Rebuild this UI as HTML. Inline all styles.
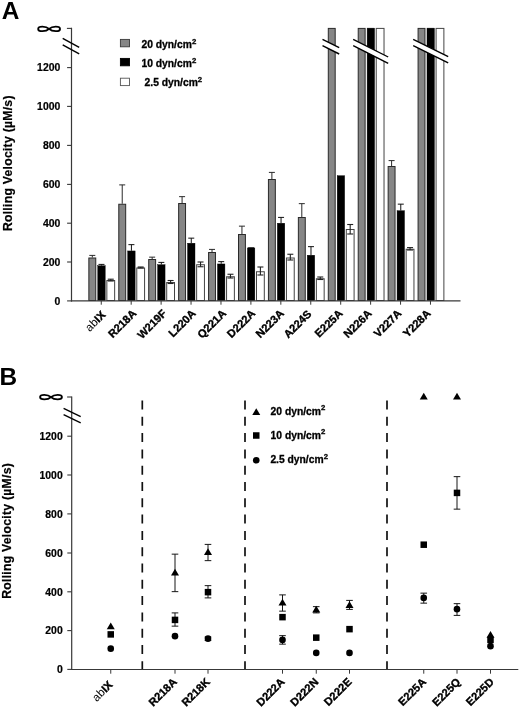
<!DOCTYPE html>
<html><head><meta charset="utf-8"><title>Rolling velocity</title>
<style>html,body{margin:0;padding:0;background:#fff;}svg{display:block;font-family:'Liberation Sans', sans-serif;fill:#000;will-change:transform}</style>
</head><body>
<svg width="520" height="710" viewBox="0 0 520 710">
<rect x="0" y="0" width="520" height="710" fill="#fff"/>
<text x="1.7" y="19.1" font-size="24.4" font-weight="bold" text-anchor="start" >A</text>
<line x1="92.30" y1="255.4" x2="92.30" y2="257.5" stroke="#2a2a2a" stroke-width="1.0" />
<line x1="89.30" y1="255.4" x2="95.30" y2="255.4" stroke="#2a2a2a" stroke-width="1.0" />
<line x1="101.47" y1="264.4" x2="101.47" y2="265.5" stroke="#111" stroke-width="1.0" />
<line x1="98.47" y1="264.4" x2="104.47" y2="264.4" stroke="#111" stroke-width="1.0" />
<rect x="88.85" y="258.00" width="6.90" height="42.50" fill="#868686" stroke="#2a2a2a" stroke-width="1.0"/>
<rect x="97.75" y="265.70" width="7.45" height="34.80" fill="#000" stroke="#000" stroke-width="0.4"/>
<rect x="106.85" y="280.50" width="7.80" height="20.00" fill="#fff" stroke="#444" stroke-width="1.0"/>
<line x1="110.75" y1="279.2" x2="110.75" y2="281.0" stroke="#222" stroke-width="1.1" />
<line x1="107.75" y1="279.2" x2="113.75" y2="279.2" stroke="#222" stroke-width="1.1" />
<line x1="107.75" y1="281.0" x2="113.75" y2="281.0" stroke="#222" stroke-width="1.1" />
<line x1="122.23" y1="184.9" x2="122.23" y2="203.75" stroke="#2a2a2a" stroke-width="1.0" />
<line x1="119.23" y1="184.9" x2="125.23" y2="184.9" stroke="#2a2a2a" stroke-width="1.0" />
<line x1="131.41" y1="244.65" x2="131.41" y2="250.75" stroke="#111" stroke-width="1.0" />
<line x1="128.41" y1="244.65" x2="134.41" y2="244.65" stroke="#111" stroke-width="1.0" />
<rect x="118.78" y="204.25" width="6.90" height="96.25" fill="#868686" stroke="#2a2a2a" stroke-width="1.0"/>
<rect x="127.68" y="250.95" width="7.45" height="49.55" fill="#000" stroke="#000" stroke-width="0.4"/>
<rect x="136.78" y="268.00" width="7.80" height="32.50" fill="#fff" stroke="#444" stroke-width="1.0"/>
<line x1="140.68" y1="267.0" x2="140.68" y2="268.0" stroke="#222" stroke-width="1.1" />
<line x1="137.68" y1="267.0" x2="143.68" y2="267.0" stroke="#222" stroke-width="1.1" />
<line x1="137.68" y1="268.0" x2="143.68" y2="268.0" stroke="#222" stroke-width="1.1" />
<line x1="152.16" y1="257.15" x2="152.16" y2="259.0" stroke="#2a2a2a" stroke-width="1.0" />
<line x1="149.16" y1="257.15" x2="155.16" y2="257.15" stroke="#2a2a2a" stroke-width="1.0" />
<line x1="161.34" y1="262.4" x2="161.34" y2="264.5" stroke="#111" stroke-width="1.0" />
<line x1="158.34" y1="262.4" x2="164.34" y2="262.4" stroke="#111" stroke-width="1.0" />
<rect x="148.71" y="259.50" width="6.90" height="41.00" fill="#868686" stroke="#2a2a2a" stroke-width="1.0"/>
<rect x="157.61" y="264.70" width="7.45" height="35.80" fill="#000" stroke="#000" stroke-width="0.4"/>
<rect x="166.71" y="282.50" width="7.80" height="18.00" fill="#fff" stroke="#444" stroke-width="1.0"/>
<line x1="170.61" y1="280.5" x2="170.61" y2="283.5" stroke="#222" stroke-width="1.1" />
<line x1="167.61" y1="280.5" x2="173.61" y2="280.5" stroke="#222" stroke-width="1.1" />
<line x1="167.61" y1="283.5" x2="173.61" y2="283.5" stroke="#222" stroke-width="1.1" />
<line x1="182.09" y1="196.65" x2="182.09" y2="203.0" stroke="#2a2a2a" stroke-width="1.0" />
<line x1="179.09" y1="196.65" x2="185.09" y2="196.65" stroke="#2a2a2a" stroke-width="1.0" />
<line x1="191.26" y1="238.15" x2="191.26" y2="243.0" stroke="#111" stroke-width="1.0" />
<line x1="188.26" y1="238.15" x2="194.26" y2="238.15" stroke="#111" stroke-width="1.0" />
<rect x="178.64" y="203.50" width="6.90" height="97.00" fill="#868686" stroke="#2a2a2a" stroke-width="1.0"/>
<rect x="187.54" y="243.20" width="7.45" height="57.30" fill="#000" stroke="#000" stroke-width="0.4"/>
<rect x="196.64" y="264.75" width="7.80" height="35.75" fill="#fff" stroke="#444" stroke-width="1.0"/>
<line x1="200.54" y1="262.0" x2="200.54" y2="266.75" stroke="#222" stroke-width="1.1" />
<line x1="197.54" y1="262.0" x2="203.54" y2="262.0" stroke="#222" stroke-width="1.1" />
<line x1="197.54" y1="266.75" x2="203.54" y2="266.75" stroke="#222" stroke-width="1.1" />
<line x1="212.02" y1="249.4" x2="212.02" y2="252.0" stroke="#2a2a2a" stroke-width="1.0" />
<line x1="209.02" y1="249.4" x2="215.02" y2="249.4" stroke="#2a2a2a" stroke-width="1.0" />
<line x1="221.19" y1="261.65" x2="221.19" y2="263.75" stroke="#111" stroke-width="1.0" />
<line x1="218.19" y1="261.65" x2="224.19" y2="261.65" stroke="#111" stroke-width="1.0" />
<rect x="208.57" y="252.50" width="6.90" height="48.00" fill="#868686" stroke="#2a2a2a" stroke-width="1.0"/>
<rect x="217.47" y="263.95" width="7.45" height="36.55" fill="#000" stroke="#000" stroke-width="0.4"/>
<rect x="226.57" y="276.75" width="7.80" height="23.75" fill="#fff" stroke="#444" stroke-width="1.0"/>
<line x1="230.47" y1="274.25" x2="230.47" y2="278.0" stroke="#222" stroke-width="1.1" />
<line x1="227.47" y1="274.25" x2="233.47" y2="274.25" stroke="#222" stroke-width="1.1" />
<line x1="227.47" y1="278.0" x2="233.47" y2="278.0" stroke="#222" stroke-width="1.1" />
<line x1="241.95" y1="226.15" x2="241.95" y2="234.0" stroke="#2a2a2a" stroke-width="1.0" />
<line x1="238.95" y1="226.15" x2="244.95" y2="226.15" stroke="#2a2a2a" stroke-width="1.0" />
<line x1="251.12" y1="247.8" x2="251.12" y2="247.75" stroke="#111" stroke-width="1.0" />
<line x1="248.12" y1="247.8" x2="254.12" y2="247.8" stroke="#111" stroke-width="1.0" />
<rect x="238.50" y="234.50" width="6.90" height="66.00" fill="#868686" stroke="#2a2a2a" stroke-width="1.0"/>
<rect x="247.40" y="247.95" width="7.45" height="52.55" fill="#000" stroke="#000" stroke-width="0.4"/>
<rect x="256.50" y="271.75" width="7.80" height="28.75" fill="#fff" stroke="#444" stroke-width="1.0"/>
<line x1="260.40" y1="267.0" x2="260.40" y2="275.0" stroke="#222" stroke-width="1.1" />
<line x1="257.40" y1="267.0" x2="263.40" y2="267.0" stroke="#222" stroke-width="1.1" />
<line x1="257.40" y1="275.0" x2="263.40" y2="275.0" stroke="#222" stroke-width="1.1" />
<line x1="271.88" y1="172.4" x2="271.88" y2="179.0" stroke="#2a2a2a" stroke-width="1.0" />
<line x1="268.88" y1="172.4" x2="274.88" y2="172.4" stroke="#2a2a2a" stroke-width="1.0" />
<line x1="281.05" y1="217.4" x2="281.05" y2="223.0" stroke="#111" stroke-width="1.0" />
<line x1="278.05" y1="217.4" x2="284.05" y2="217.4" stroke="#111" stroke-width="1.0" />
<rect x="268.43" y="179.50" width="6.90" height="121.00" fill="#868686" stroke="#2a2a2a" stroke-width="1.0"/>
<rect x="277.33" y="223.20" width="7.45" height="77.30" fill="#000" stroke="#000" stroke-width="0.4"/>
<rect x="286.43" y="258.00" width="7.80" height="42.50" fill="#fff" stroke="#444" stroke-width="1.0"/>
<line x1="290.33" y1="254.25" x2="290.33" y2="260.0" stroke="#222" stroke-width="1.1" />
<line x1="287.33" y1="254.25" x2="293.33" y2="254.25" stroke="#222" stroke-width="1.1" />
<line x1="287.33" y1="260.0" x2="293.33" y2="260.0" stroke="#222" stroke-width="1.1" />
<line x1="301.81" y1="203.65" x2="301.81" y2="217.0" stroke="#2a2a2a" stroke-width="1.0" />
<line x1="298.81" y1="203.65" x2="304.81" y2="203.65" stroke="#2a2a2a" stroke-width="1.0" />
<line x1="310.99" y1="246.65" x2="310.99" y2="255.0" stroke="#111" stroke-width="1.0" />
<line x1="307.99" y1="246.65" x2="313.99" y2="246.65" stroke="#111" stroke-width="1.0" />
<rect x="298.36" y="217.50" width="6.90" height="83.00" fill="#868686" stroke="#2a2a2a" stroke-width="1.0"/>
<rect x="307.26" y="255.20" width="7.45" height="45.30" fill="#000" stroke="#000" stroke-width="0.4"/>
<rect x="316.36" y="278.75" width="7.80" height="21.75" fill="#fff" stroke="#444" stroke-width="1.0"/>
<line x1="320.26" y1="277.0" x2="320.26" y2="279.5" stroke="#222" stroke-width="1.1" />
<line x1="317.26" y1="277.0" x2="323.26" y2="277.0" stroke="#222" stroke-width="1.1" />
<line x1="317.26" y1="279.5" x2="323.26" y2="279.5" stroke="#222" stroke-width="1.1" />
<rect x="328.29" y="28.40" width="6.90" height="272.10" fill="#868686" stroke="#2a2a2a" stroke-width="1.0"/>
<rect x="337.19" y="175.70" width="7.45" height="124.80" fill="#000" stroke="#000" stroke-width="0.4"/>
<rect x="346.29" y="229.50" width="7.80" height="71.00" fill="#fff" stroke="#444" stroke-width="1.0"/>
<line x1="350.19" y1="224.5" x2="350.19" y2="234.0" stroke="#222" stroke-width="1.1" />
<line x1="347.19" y1="224.5" x2="353.19" y2="224.5" stroke="#222" stroke-width="1.1" />
<line x1="347.19" y1="234.0" x2="353.19" y2="234.0" stroke="#222" stroke-width="1.1" />
<rect x="358.22" y="28.40" width="6.90" height="272.10" fill="#868686" stroke="#2a2a2a" stroke-width="1.0"/>
<rect x="367.12" y="28.10" width="7.45" height="272.40" fill="#000" stroke="#000" stroke-width="0.4"/>
<rect x="376.22" y="28.40" width="7.80" height="272.10" fill="#fff" stroke="#444" stroke-width="1.0"/>
<line x1="391.60" y1="160.6" x2="391.60" y2="166.0" stroke="#2a2a2a" stroke-width="1.0" />
<line x1="388.60" y1="160.6" x2="394.60" y2="160.6" stroke="#2a2a2a" stroke-width="1.0" />
<line x1="400.77" y1="204.15" x2="400.77" y2="210.5" stroke="#111" stroke-width="1.0" />
<line x1="397.77" y1="204.15" x2="403.77" y2="204.15" stroke="#111" stroke-width="1.0" />
<rect x="388.15" y="166.50" width="6.90" height="134.00" fill="#868686" stroke="#2a2a2a" stroke-width="1.0"/>
<rect x="397.05" y="210.70" width="7.45" height="89.80" fill="#000" stroke="#000" stroke-width="0.4"/>
<rect x="406.15" y="249.25" width="7.80" height="51.25" fill="#fff" stroke="#444" stroke-width="1.0"/>
<line x1="410.05" y1="247.6" x2="410.05" y2="250.0" stroke="#222" stroke-width="1.1" />
<line x1="407.05" y1="247.6" x2="413.05" y2="247.6" stroke="#222" stroke-width="1.1" />
<line x1="407.05" y1="250.0" x2="413.05" y2="250.0" stroke="#222" stroke-width="1.1" />
<rect x="418.08" y="28.40" width="6.90" height="272.10" fill="#868686" stroke="#2a2a2a" stroke-width="1.0"/>
<rect x="426.98" y="28.10" width="7.45" height="272.40" fill="#000" stroke="#000" stroke-width="0.4"/>
<rect x="436.08" y="28.40" width="7.80" height="272.10" fill="#fff" stroke="#444" stroke-width="1.0"/>
<line x1="70.9" y1="300.9" x2="460.5" y2="300.9" stroke="#383838" stroke-width="1.1" />
<line x1="101.25" y1="300.5" x2="101.25" y2="304.7" stroke="#383838" stroke-width="1.0" />
<line x1="131.18" y1="300.5" x2="131.18" y2="304.7" stroke="#383838" stroke-width="1.0" />
<line x1="161.11" y1="300.5" x2="161.11" y2="304.7" stroke="#383838" stroke-width="1.0" />
<line x1="191.04" y1="300.5" x2="191.04" y2="304.7" stroke="#383838" stroke-width="1.0" />
<line x1="220.97" y1="300.5" x2="220.97" y2="304.7" stroke="#383838" stroke-width="1.0" />
<line x1="250.90" y1="300.5" x2="250.90" y2="304.7" stroke="#383838" stroke-width="1.0" />
<line x1="280.83" y1="300.5" x2="280.83" y2="304.7" stroke="#383838" stroke-width="1.0" />
<line x1="310.76" y1="300.5" x2="310.76" y2="304.7" stroke="#383838" stroke-width="1.0" />
<line x1="340.69" y1="300.5" x2="340.69" y2="304.7" stroke="#383838" stroke-width="1.0" />
<line x1="370.62" y1="300.5" x2="370.62" y2="304.7" stroke="#383838" stroke-width="1.0" />
<line x1="400.55" y1="300.5" x2="400.55" y2="304.7" stroke="#383838" stroke-width="1.0" />
<line x1="430.48" y1="300.5" x2="430.48" y2="304.7" stroke="#383838" stroke-width="1.0" />
<line x1="71.5" y1="27.849999999999998" x2="71.5" y2="301.45" stroke="#383838" stroke-width="1.2" />
<line x1="66.9" y1="28.4" x2="71.5" y2="28.4" stroke="#383838" stroke-width="1.1" />
<line x1="67.1" y1="300.9" x2="71.5" y2="300.9" stroke="#383838" stroke-width="1.1" />
<text x="60.3" y="304.60" font-size="10.4" font-weight="bold" text-anchor="end" textLength="5.80" lengthAdjust="spacingAndGlyphs" stroke="#000" stroke-width="0.2">0</text>
<line x1="67.1" y1="262.0" x2="71.5" y2="262.0" stroke="#383838" stroke-width="1.1" />
<text x="60.3" y="265.70" font-size="10.4" font-weight="bold" text-anchor="end" textLength="17.40" lengthAdjust="spacingAndGlyphs" stroke="#000" stroke-width="0.2">200</text>
<line x1="67.1" y1="223.2" x2="71.5" y2="223.2" stroke="#383838" stroke-width="1.1" />
<text x="60.3" y="226.90" font-size="10.4" font-weight="bold" text-anchor="end" textLength="17.40" lengthAdjust="spacingAndGlyphs" stroke="#000" stroke-width="0.2">400</text>
<line x1="67.1" y1="184.4" x2="71.5" y2="184.4" stroke="#383838" stroke-width="1.1" />
<text x="60.3" y="188.10" font-size="10.4" font-weight="bold" text-anchor="end" textLength="17.40" lengthAdjust="spacingAndGlyphs" stroke="#000" stroke-width="0.2">600</text>
<line x1="67.1" y1="145.4" x2="71.5" y2="145.4" stroke="#383838" stroke-width="1.1" />
<text x="60.3" y="149.10" font-size="10.4" font-weight="bold" text-anchor="end" textLength="17.40" lengthAdjust="spacingAndGlyphs" stroke="#000" stroke-width="0.2">800</text>
<line x1="67.1" y1="106.4" x2="71.5" y2="106.4" stroke="#383838" stroke-width="1.1" />
<text x="60.3" y="110.10" font-size="10.4" font-weight="bold" text-anchor="end" textLength="23.20" lengthAdjust="spacingAndGlyphs" stroke="#000" stroke-width="0.2">1000</text>
<line x1="67.1" y1="67.6" x2="71.5" y2="67.6" stroke="#383838" stroke-width="1.1" />
<text x="60.3" y="71.30" font-size="10.4" font-weight="bold" text-anchor="end" textLength="23.20" lengthAdjust="spacingAndGlyphs" stroke="#000" stroke-width="0.2">1200</text>
<path d="M49.1,28.9 C45.9,25.9 38.2,25.9 38.2,28.9 C38.2,31.9 45.9,31.9 49.1,28.9 C52.300000000000004,25.9 60.0,25.9 60.0,28.9 C60.0,31.9 52.300000000000004,31.9 49.1,28.9 Z" fill="none" stroke="#000" stroke-width="1.9" stroke-linejoin="round"/>
<line x1="62.7" y1="38.3" x2="79.2" y2="47.3" stroke="#000" stroke-width="1.4" />
<line x1="62.7" y1="44.8" x2="79.2" y2="53.8" stroke="#000" stroke-width="1.4" />
<polygon points="322.5,39.3 339.2,47.7 339.2,54.0 322.5,45.599999999999994" fill="#fff"/>
<line x1="322.5" y1="39.3" x2="339.2" y2="47.7" stroke="#000" stroke-width="1.4" />
<line x1="322.5" y1="45.599999999999994" x2="339.2" y2="54.0" stroke="#000" stroke-width="1.4" />
<polygon points="353.2,39.3 388.2,57.0 388.2,63.3 353.2,45.599999999999994" fill="#fff"/>
<line x1="353.2" y1="39.3" x2="388.2" y2="57.0" stroke="#000" stroke-width="1.4" />
<line x1="353.2" y1="45.599999999999994" x2="388.2" y2="63.3" stroke="#000" stroke-width="1.4" />
<polygon points="413.2,39.3 448.2,56.6 448.2,62.9 413.2,45.599999999999994" fill="#fff"/>
<line x1="413.2" y1="39.3" x2="448.2" y2="56.6" stroke="#000" stroke-width="1.4" />
<line x1="413.2" y1="45.599999999999994" x2="448.2" y2="62.9" stroke="#000" stroke-width="1.4" />
<rect x="120.4" y="39.4" width="9.1" height="7.4" fill="#868686" stroke="#3a3a3a" stroke-width="0.9"/>
<rect x="120.4" y="58.4" width="9.1" height="7.4" fill="#000" stroke="#000" stroke-width="0.9"/>
<rect x="120.4" y="78.2" width="9.1" height="7.4" fill="#fff" stroke="#555" stroke-width="0.9"/>
<text x="141.5" y="47.9" font-size="10.3" font-weight="bold" text-anchor="start" stroke="#000" stroke-width="0.3">20 dyn/cm<tspan font-size="7.8" dy="-4.3">2</tspan></text>
<text x="141.5" y="67.2" font-size="10.3" font-weight="bold" text-anchor="start" stroke="#000" stroke-width="0.3">10 dyn/cm<tspan font-size="7.8" dy="-4.3">2</tspan></text>
<text x="144.6" y="86.2" font-size="10.3" font-weight="bold" text-anchor="start" stroke="#000" stroke-width="0.3">2.5 dyn/cm<tspan font-size="7.8" dy="-4.3">2</tspan></text>
<text transform="translate(106.25,315.60) rotate(-45)" font-size="11.1" font-weight="bold" text-anchor="end" letter-spacing="0" stroke="#000" stroke-width="0.35"><tspan font-weight="normal" stroke="none" font-size="11.6">ab</tspan>IX</text>
<text transform="translate(137.08,314.10) rotate(-45)" font-size="11.1" font-weight="bold" text-anchor="end" letter-spacing="0" stroke="#000" stroke-width="0.35">R218A</text>
<text transform="translate(167.21,314.10) rotate(-45)" font-size="11.1" font-weight="bold" text-anchor="end" letter-spacing="0" stroke="#000" stroke-width="0.35">W219F</text>
<text transform="translate(196.54,314.10) rotate(-45)" font-size="11.1" font-weight="bold" text-anchor="end" letter-spacing="0" stroke="#000" stroke-width="0.35">L220A</text>
<text transform="translate(226.87,314.10) rotate(-45)" font-size="11.1" font-weight="bold" text-anchor="end" letter-spacing="0" stroke="#000" stroke-width="0.35">Q221A</text>
<text transform="translate(256.05,314.10) rotate(-45)" font-size="11.1" font-weight="bold" text-anchor="end" letter-spacing="0" stroke="#000" stroke-width="0.35">D222A</text>
<text transform="translate(284.73,314.10) rotate(-45)" font-size="11.1" font-weight="bold" text-anchor="end" letter-spacing="0" stroke="#000" stroke-width="0.35">N223A</text>
<text transform="translate(312.16,314.70) rotate(-45)" font-size="11.1" font-weight="bold" text-anchor="end" letter-spacing="0" stroke="#000" stroke-width="0.35">A224S</text>
<text transform="translate(343.34,314.10) rotate(-45)" font-size="11.1" font-weight="bold" text-anchor="end" letter-spacing="0" stroke="#000" stroke-width="0.35">E225A</text>
<text transform="translate(372.52,314.10) rotate(-45)" font-size="11.1" font-weight="bold" text-anchor="end" letter-spacing="0" stroke="#000" stroke-width="0.35">N226A</text>
<text transform="translate(402.20,314.10) rotate(-45)" font-size="11.1" font-weight="bold" text-anchor="end" letter-spacing="0" stroke="#000" stroke-width="0.35">V227A</text>
<text transform="translate(431.38,314.10) rotate(-45)" font-size="11.1" font-weight="bold" text-anchor="end" letter-spacing="0" stroke="#000" stroke-width="0.35">Y228A</text>
<text transform="translate(12.3,163.2) rotate(-90)" font-size="12.2" font-weight="bold" text-anchor="middle" letter-spacing="0.27" stroke="#000" stroke-width="0.2">Rolling Velocity (µM/s)</text>
<text x="-0.6" y="385.1" font-size="24.4" font-weight="bold" text-anchor="start" >B</text>
<line x1="71.1" y1="669.45" x2="518.3" y2="669.45" stroke="#383838" stroke-width="1.05" />
<line x1="71.7" y1="396.45" x2="71.7" y2="669.9499999999999" stroke="#383838" stroke-width="1.2" />
<line x1="67.10000000000001" y1="397.0" x2="71.7" y2="397.0" stroke="#383838" stroke-width="1.1" />
<line x1="67.3" y1="669.4" x2="71.7" y2="669.4" stroke="#383838" stroke-width="1.1" />
<text x="62.7" y="673.10" font-size="10.4" font-weight="bold" text-anchor="end" textLength="5.80" lengthAdjust="spacingAndGlyphs" stroke="#000" stroke-width="0.2">0</text>
<line x1="67.3" y1="630.6" x2="71.7" y2="630.6" stroke="#383838" stroke-width="1.1" />
<text x="62.7" y="634.30" font-size="10.4" font-weight="bold" text-anchor="end" textLength="17.40" lengthAdjust="spacingAndGlyphs" stroke="#000" stroke-width="0.2">200</text>
<line x1="67.3" y1="591.8" x2="71.7" y2="591.8" stroke="#383838" stroke-width="1.1" />
<text x="62.7" y="595.50" font-size="10.4" font-weight="bold" text-anchor="end" textLength="17.40" lengthAdjust="spacingAndGlyphs" stroke="#000" stroke-width="0.2">400</text>
<line x1="67.3" y1="553.0" x2="71.7" y2="553.0" stroke="#383838" stroke-width="1.1" />
<text x="62.7" y="556.70" font-size="10.4" font-weight="bold" text-anchor="end" textLength="17.40" lengthAdjust="spacingAndGlyphs" stroke="#000" stroke-width="0.2">600</text>
<line x1="67.3" y1="513.9" x2="71.7" y2="513.9" stroke="#383838" stroke-width="1.1" />
<text x="62.7" y="517.60" font-size="10.4" font-weight="bold" text-anchor="end" textLength="17.40" lengthAdjust="spacingAndGlyphs" stroke="#000" stroke-width="0.2">800</text>
<line x1="67.3" y1="475.0" x2="71.7" y2="475.0" stroke="#383838" stroke-width="1.1" />
<text x="62.7" y="478.70" font-size="10.4" font-weight="bold" text-anchor="end" textLength="23.20" lengthAdjust="spacingAndGlyphs" stroke="#000" stroke-width="0.2">1000</text>
<line x1="67.3" y1="436.2" x2="71.7" y2="436.2" stroke="#383838" stroke-width="1.1" />
<text x="62.7" y="439.90" font-size="10.4" font-weight="bold" text-anchor="end" textLength="23.20" lengthAdjust="spacingAndGlyphs" stroke="#000" stroke-width="0.2">1200</text>
<path d="M51.0,397.1 C47.8,394.1 40.1,394.1 40.1,397.1 C40.1,400.1 47.8,400.1 51.0,397.1 C54.2,394.1 61.9,394.1 61.9,397.1 C61.9,400.1 54.2,400.1 51.0,397.1 Z" fill="none" stroke="#000" stroke-width="1.9" stroke-linejoin="round"/>
<line x1="63.6" y1="408.4" x2="80.7" y2="416.6" stroke="#000" stroke-width="1.4" />
<line x1="63.6" y1="414.59999999999997" x2="80.7" y2="422.8" stroke="#000" stroke-width="1.4" />
<line x1="142.3" y1="400.5" x2="142.3" y2="669" stroke="#111" stroke-width="1.7" stroke-dasharray="9 7.3"/>
<line x1="245.0" y1="400.5" x2="245.0" y2="669" stroke="#111" stroke-width="1.7" stroke-dasharray="9 7.3"/>
<line x1="387.0" y1="400.5" x2="387.0" y2="669" stroke="#111" stroke-width="1.7" stroke-dasharray="9 7.3"/>
<line x1="110.75" y1="669.0" x2="110.75" y2="673.7" stroke="#383838" stroke-width="1.0" />
<polygon points="110.75,622.55 114.75,629.25 106.75,629.25" fill="#000"/>
<rect x="107.50" y="631.15" width="6.5" height="6.5" fill="#000"/>
<circle cx="110.75" cy="648.65" r="3.3" fill="#000"/>
<line x1="175.0" y1="669.0" x2="175.0" y2="673.7" stroke="#383838" stroke-width="1.0" />
<line x1="175.0" y1="554.15" x2="175.0" y2="591.65" stroke="#161616" stroke-width="1.0" />
<line x1="171.7" y1="554.15" x2="178.3" y2="554.15" stroke="#161616" stroke-width="1.0" />
<line x1="171.7" y1="591.65" x2="178.3" y2="591.65" stroke="#161616" stroke-width="1.0" />
<line x1="175.0" y1="612.9" x2="175.0" y2="626.15" stroke="#161616" stroke-width="1.0" />
<line x1="171.7" y1="612.9" x2="178.3" y2="612.9" stroke="#161616" stroke-width="1.0" />
<line x1="171.7" y1="626.15" x2="178.3" y2="626.15" stroke="#161616" stroke-width="1.0" />
<polygon points="175.00,568.80 179.00,575.50 171.00,575.50" fill="#000"/>
<rect x="171.75" y="616.65" width="6.5" height="6.5" fill="#000"/>
<circle cx="175.00" cy="636.15" r="3.3" fill="#000"/>
<line x1="208.0" y1="669.0" x2="208.0" y2="673.7" stroke="#383838" stroke-width="1.0" />
<line x1="208.0" y1="544.4" x2="208.0" y2="560.65" stroke="#161616" stroke-width="1.0" />
<line x1="204.7" y1="544.4" x2="211.3" y2="544.4" stroke="#161616" stroke-width="1.0" />
<line x1="204.7" y1="560.65" x2="211.3" y2="560.65" stroke="#161616" stroke-width="1.0" />
<line x1="208.0" y1="585.65" x2="208.0" y2="597.9" stroke="#161616" stroke-width="1.0" />
<line x1="204.7" y1="585.65" x2="211.3" y2="585.65" stroke="#161616" stroke-width="1.0" />
<line x1="204.7" y1="597.9" x2="211.3" y2="597.9" stroke="#161616" stroke-width="1.0" />
<line x1="208.0" y1="637.0" x2="208.0" y2="640.4" stroke="#161616" stroke-width="1.0" />
<line x1="204.7" y1="637.0" x2="211.3" y2="637.0" stroke="#161616" stroke-width="1.0" />
<line x1="204.7" y1="640.4" x2="211.3" y2="640.4" stroke="#161616" stroke-width="1.0" />
<polygon points="208.00,548.30 212.00,555.00 204.00,555.00" fill="#000"/>
<rect x="204.75" y="588.90" width="6.5" height="6.5" fill="#000"/>
<circle cx="208.00" cy="638.65" r="3.3" fill="#000"/>
<line x1="282.5" y1="669.0" x2="282.5" y2="673.7" stroke="#383838" stroke-width="1.0" />
<line x1="282.5" y1="594.9" x2="282.5" y2="611.15" stroke="#161616" stroke-width="1.0" />
<line x1="279.2" y1="594.9" x2="285.8" y2="594.9" stroke="#161616" stroke-width="1.0" />
<line x1="279.2" y1="611.15" x2="285.8" y2="611.15" stroke="#161616" stroke-width="1.0" />
<line x1="282.5" y1="635.65" x2="282.5" y2="644.15" stroke="#161616" stroke-width="1.0" />
<line x1="279.2" y1="635.65" x2="285.8" y2="635.65" stroke="#161616" stroke-width="1.0" />
<line x1="279.2" y1="644.15" x2="285.8" y2="644.15" stroke="#161616" stroke-width="1.0" />
<polygon points="282.50,598.80 286.50,605.50 278.50,605.50" fill="#000"/>
<rect x="279.25" y="613.90" width="6.5" height="6.5" fill="#000"/>
<circle cx="282.50" cy="639.90" r="3.3" fill="#000"/>
<line x1="316.25" y1="669.0" x2="316.25" y2="673.7" stroke="#383838" stroke-width="1.0" />
<line x1="316.25" y1="606.65" x2="316.25" y2="612.9" stroke="#161616" stroke-width="1.0" />
<line x1="312.95" y1="606.65" x2="319.55" y2="606.65" stroke="#161616" stroke-width="1.0" />
<line x1="312.95" y1="612.9" x2="319.55" y2="612.9" stroke="#161616" stroke-width="1.0" />
<polygon points="316.25,605.80 320.25,612.50 312.25,612.50" fill="#000"/>
<rect x="313.00" y="634.40" width="6.5" height="6.5" fill="#000"/>
<circle cx="316.25" cy="652.90" r="3.3" fill="#000"/>
<line x1="349.5" y1="669.0" x2="349.5" y2="673.7" stroke="#383838" stroke-width="1.0" />
<line x1="349.5" y1="600.4" x2="349.5" y2="609.4" stroke="#161616" stroke-width="1.0" />
<line x1="346.2" y1="600.4" x2="352.8" y2="600.4" stroke="#161616" stroke-width="1.0" />
<line x1="346.2" y1="609.4" x2="352.8" y2="609.4" stroke="#161616" stroke-width="1.0" />
<polygon points="349.50,601.30 353.50,608.00 345.50,608.00" fill="#000"/>
<rect x="346.25" y="625.90" width="6.5" height="6.5" fill="#000"/>
<circle cx="349.50" cy="652.90" r="3.3" fill="#000"/>
<line x1="423.75" y1="669.0" x2="423.75" y2="673.7" stroke="#383838" stroke-width="1.0" />
<line x1="423.75" y1="593.15" x2="423.75" y2="603.15" stroke="#161616" stroke-width="1.0" />
<line x1="420.45" y1="593.15" x2="427.05" y2="593.15" stroke="#161616" stroke-width="1.0" />
<line x1="420.45" y1="603.15" x2="427.05" y2="603.15" stroke="#161616" stroke-width="1.0" />
<polygon points="423.75,392.80 427.75,399.50 419.75,399.50" fill="#000"/>
<rect x="420.50" y="541.45" width="6.5" height="6.5" fill="#000"/>
<circle cx="423.75" cy="597.90" r="3.3" fill="#000"/>
<line x1="457.0" y1="669.0" x2="457.0" y2="673.7" stroke="#383838" stroke-width="1.0" />
<line x1="457.0" y1="476.65" x2="457.0" y2="509.15" stroke="#161616" stroke-width="1.0" />
<line x1="453.7" y1="476.65" x2="460.3" y2="476.65" stroke="#161616" stroke-width="1.0" />
<line x1="453.7" y1="509.15" x2="460.3" y2="509.15" stroke="#161616" stroke-width="1.0" />
<line x1="457.0" y1="603.65" x2="457.0" y2="615.4" stroke="#161616" stroke-width="1.0" />
<line x1="453.7" y1="603.65" x2="460.3" y2="603.65" stroke="#161616" stroke-width="1.0" />
<line x1="453.7" y1="615.4" x2="460.3" y2="615.4" stroke="#161616" stroke-width="1.0" />
<polygon points="457.00,392.80 461.00,399.50 453.00,399.50" fill="#000"/>
<rect x="453.75" y="489.65" width="6.5" height="6.5" fill="#000"/>
<circle cx="457.00" cy="609.15" r="3.3" fill="#000"/>
<line x1="490.5" y1="669.0" x2="490.5" y2="673.7" stroke="#383838" stroke-width="1.0" />
<polygon points="490.50,631.10 494.50,637.80 486.50,637.80" fill="#000"/>
<rect x="487.25" y="636.65" width="6.5" height="6.5" fill="#000"/>
<circle cx="490.50" cy="646.15" r="3.3" fill="#000"/>
<polygon points="256.25,408.30 260.25,415.00 252.25,415.00" fill="#000"/>
<rect x="253.00" y="432.25" width="6.5" height="6.5" fill="#000"/>
<circle cx="256.25" cy="460.30" r="3.3" fill="#000"/>
<text x="270.6" y="414.6" font-size="10.3" font-weight="bold" text-anchor="start" stroke="#000" stroke-width="0.3">20 dyn/cm<tspan font-size="7.8" dy="-4.3">2</tspan></text>
<text x="270.6" y="438.6" font-size="10.3" font-weight="bold" text-anchor="start" stroke="#000" stroke-width="0.3">10 dyn/cm<tspan font-size="7.8" dy="-4.3">2</tspan></text>
<text x="270.4" y="463.3" font-size="10.3" font-weight="bold" text-anchor="start" stroke="#000" stroke-width="0.3">2.5 dyn/cm<tspan font-size="7.8" dy="-4.3">2</tspan></text>
<text transform="translate(113.35,685.60) rotate(-45)" font-size="11.1" font-weight="bold" text-anchor="end" letter-spacing="0" stroke="#000" stroke-width="0.35"><tspan font-weight="normal" stroke="none" font-size="11.6">ab</tspan>IX</text>
<text transform="translate(177.60,682.60) rotate(-45)" font-size="11.1" font-weight="bold" text-anchor="end" letter-spacing="0" stroke="#000" stroke-width="0.35">R218A</text>
<text transform="translate(210.60,682.60) rotate(-45)" font-size="11.1" font-weight="bold" text-anchor="end" letter-spacing="0" stroke="#000" stroke-width="0.35">R218K</text>
<text transform="translate(285.40,682.60) rotate(-45)" font-size="11.1" font-weight="bold" text-anchor="end" letter-spacing="0" stroke="#000" stroke-width="0.35">D222A</text>
<text transform="translate(319.15,682.60) rotate(-45)" font-size="11.1" font-weight="bold" text-anchor="end" letter-spacing="0" stroke="#000" stroke-width="0.35">D222N</text>
<text transform="translate(352.40,682.60) rotate(-45)" font-size="11.1" font-weight="bold" text-anchor="end" letter-spacing="0" stroke="#000" stroke-width="0.35">D222E</text>
<text transform="translate(426.85,682.60) rotate(-45)" font-size="11.1" font-weight="bold" text-anchor="end" letter-spacing="0" stroke="#000" stroke-width="0.35">E225A</text>
<text transform="translate(461.10,682.60) rotate(-45)" font-size="11.1" font-weight="bold" text-anchor="end" letter-spacing="0" stroke="#000" stroke-width="0.35">E225Q</text>
<text transform="translate(494.60,682.60) rotate(-45)" font-size="11.1" font-weight="bold" text-anchor="end" letter-spacing="0" stroke="#000" stroke-width="0.35">E225D</text>
<text transform="translate(11.3,530.9) rotate(-90)" font-size="12.2" font-weight="bold" text-anchor="middle" letter-spacing="0.27" stroke="#000" stroke-width="0.2">Rolling Velocity (µM/s)</text>
</svg>
</body></html>
